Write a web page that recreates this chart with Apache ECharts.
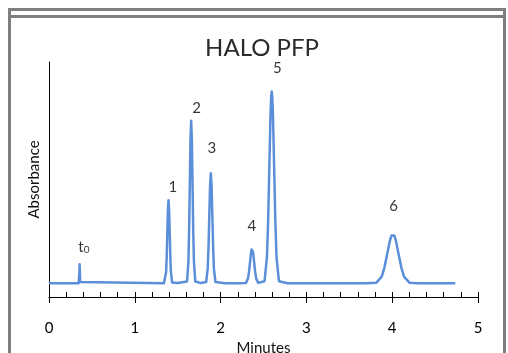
<!DOCTYPE html>
<html>
<head>
<meta charset="utf-8">
<script src="https://cdn.jsdelivr.net/npm/echarts@6/dist/echarts.min.js"></script>
<style>
html,body{margin:0;padding:0;background:#fff;}
#c{width:508px;height:353px;}
</style>
</head>
<body>
<div id="c"></div>
<script>
// Chromatogram trace (minutes, absorbance in arbitrary units)
var timeMin = [
  0, 0.345,
  0.350, 0.354, 0.357, 0.360, 0.364, 0.37,
  1.34,
  1.351, 1.365, 1.372, 1.379, 1.386, 1.393, 1.400, 1.407, 1.414, 1.421, 1.435,
  1.5,
  1.609, 1.625, 1.633, 1.641, 1.649, 1.657, 1.665, 1.673, 1.681, 1.689, 1.705,
  1.77,
  1.832, 1.85, 1.859, 1.868, 1.877, 1.886, 1.895, 1.904, 1.913, 1.922, 1.94,
  2.05, 2.22,
  2.295, 2.319, 2.331, 2.343, 2.355, 2.361, 2.367, 2.373, 2.379, 2.391, 2.403, 2.415, 2.439,
  2.512, 2.54, 2.554, 2.568, 2.582, 2.589, 2.596, 2.603, 2.61, 2.624, 2.638, 2.652, 2.68,
  2.78, 3.7,
  3.813, 3.878, 3.910, 3.943, 3.976, 3.992, 4.008, 4.024, 4.041, 4.073, 4.106, 4.138, 4.203,
  4.3, 4.735
];
var absorbance = [
  13.7, 13.7,
  15, 24, 32.7, 24, 15, 13.7,
  13.7,
  14.6, 24.9, 40.7, 64, 86.9, 96.7, 86.9, 64, 40.7, 24.9, 14.6,
  13.9,
  15.5, 35.7, 66.5, 112.3, 157.2, 176.3, 157.2, 112.3, 66.5, 35.7, 15.5,
  13.9,
  14.9, 28.6, 49.4, 80.4, 110.8, 123.7, 110.8, 80.4, 49.4, 28.6, 14.9,
  13.7, 13.7,
  14.1, 18.4, 25.1, 34.9, 44.6, 47.6, 48.7, 47.6, 44.6, 34.9, 25.1, 18.4, 14.1,
  15.8, 39.7, 76, 130, 183, 199.5, 205.5, 199.5, 183, 130, 76, 39.7, 15.8,
  13.7, 13.7,
  14.2, 20.4, 29.7, 43.6, 57.2, 61.5, 63, 61.5, 57.2, 43.6, 29.7, 20.4, 14.2,
  13.7, 13.7
];
// Peak labels
var peakNames = ['t0', '1', '2', '3', '4', '5', '6'];
var peakLabelX = [0.407, 1.444, 1.719, 1.898, 2.363, 2.660, 4.016];
var peakLabelY = [50, 109.5, 189, 149, 71, 228.5, 90.5];
var xTicks = [0, 1, 2, 3, 4, 5];

var trace = timeMin.map(function (t, i) { return [t, absorbance[i]]; });
var labelData = peakNames.map(function (n, i) { return { value: [peakLabelX[i], peakLabelY[i]], name: n }; });

var chart = echarts.init(document.getElementById('c'));
var fontFam = 'Lato, "Open Sans", sans-serif';
chart.setOption({
  animation: false,
  backgroundColor: '#ffffff',
  grid: { left: 49, right: 30, top: 62, bottom: 56, containLabel: false, outerBoundsMode: 'none' },
  xAxis: [{
    type: 'value', min: xTicks[0], max: xTicks[xTicks.length - 1], interval: 1,
    name: 'Minutes', nameLocation: 'middle', nameGap: 38,
    nameTextStyle: { fontFamily: fontFam, fontSize: 15, color: '#111' },
    axisLine: { show: true, lineStyle: { color: '#000', width: 1 } },
    axisTick: { show: true, inside: true, length: 5, lineStyle: { color: '#000' } },
    minorTick: { show: true, splitNumber: 5, length: 5, lineStyle: { color: '#000' } },
    axisLabel: { show: true, margin: 24, fontFamily: fontFam, fontSize: 15, color: '#000' },
    splitLine: { show: false }
  }, {
    type: 'value', min: xTicks[0], max: xTicks[xTicks.length - 1], interval: 1,
    position: 'bottom', offset: 0,
    axisLine: { show: false },
    axisTick: { show: true, inside: false, length: 6, lineStyle: { color: '#000' } },
    axisLabel: { show: false },
    splitLine: { show: false }
  }],
  yAxis: {
    type: 'value', min: 0, max: 235,
    name: 'Absorbance', nameLocation: 'middle', nameGap: 7,
    nameTextStyle: { fontFamily: fontFam, fontSize: 15, color: '#111' },
    axisLine: { show: true, lineStyle: { color: '#000', width: 1 } },
    axisTick: { show: false },
    axisLabel: { show: false },
    splitLine: { show: false }
  },
  graphic: [
    { type: 'rect', shape: { x: 9.5, y: 9.5, width: 495, height: 400 }, style: { fill: 'none', stroke: '#7f7f7f', lineWidth: 3 }, silent: true },
    { type: 'line', shape: { x1: 9, y1: 16.5, x2: 505, y2: 16.5 }, style: { stroke: '#7f7f7f', lineWidth: 3 }, silent: true },
    { type: 'text', x: 262, y: 48, style: { text: 'HALO PFP', fontFamily: fontFam, fontSize: 24, fill: '#2b2b2b', textAlign: 'center', textVerticalAlign: 'middle' }, silent: true }
  ],
  series: [{
    type: 'line', data: trace, xAxisIndex: 0, showSymbol: false, symbol: 'none',
    smooth: false,
    lineStyle: { color: '#5b8fd9', width: 2.5, join: 'round' }
  }, {
    type: 'scatter', data: labelData, xAxisIndex: 0, symbolSize: 0,
    label: {
      show: true, position: 'inside',
      fontFamily: fontFam, fontSize: 15, color: '#000',
      formatter: function (p) { return p.name === 't0' ? '{t|t}{s|0}' : p.name; },
      rich: {
        t: { fontFamily: fontFam, fontSize: 15, color: '#000' },
        s: { fontFamily: fontFam, fontSize: 10, color: '#000', padding: [6, 0, 0, 0] }
      }
    }
  }]
});
</script>
</body>
</html>
